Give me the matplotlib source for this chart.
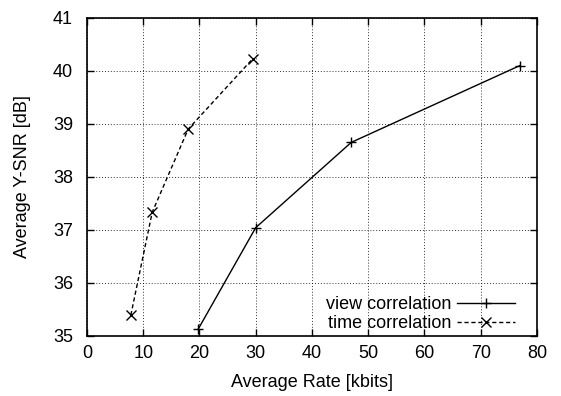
import matplotlib
matplotlib.use("Agg")
import matplotlib.pyplot as plt

plt.rcParams['font.family'] = ['Liberation Sans', 'DejaVu Sans']

view_rate = [19.8, 30.0, 47.0, 77.0]
view_snr = [35.13, 37.04, 38.65, 40.10]
time_rate = [7.8, 11.6, 18.0, 29.5]
time_snr = [35.39, 37.33, 38.90, 40.23]

xticks = [0, 10, 20, 30, 40, 50, 60, 70, 80]
yticks = [35, 36, 37, 38, 39, 40, 41]

FS = 13

fig = plt.figure(figsize=(5.61, 3.96), dpi=100)
ax = fig.add_axes([0.155, 0.152, 0.802, 0.803])

ax.plot(view_rate, view_snr, color='black', lw=1.0, marker='+', ms=7, mew=1.0,
        label='view correlation')
ax.plot(time_rate, time_snr, color='black', lw=1.0, ls=(0, (3, 2)), marker='x', ms=6.5, mew=1.0,
        label='time correlation')

ax.set_xlim(0, 80)
ax.set_ylim(35, 41)
ax.set_xticks(xticks)
ax.set_yticks(yticks)
ax.tick_params(direction='in', top=True, right=True, length=5, width=1, labelsize=FS)
ax.tick_params(axis='x', pad=6.5)
ax.tick_params(axis='y', pad=10)
ax.grid(True, color='black', ls=(0, (1, 2)), lw=0.7, alpha=0.8)
for s in ax.spines.values():
    s.set_linewidth(1.2)

ax.set_xlabel('Average Rate [kbits]', fontsize=FS, labelpad=9)
ax.set_ylabel('Average Y-SNR [dB]', fontsize=FS, labelpad=16)

leg = ax.legend(loc='lower right', frameon=False, markerfirst=False, handlelength=3.2,
                fontsize=FS, numpoints=1, borderaxespad=0, borderpad=0, labelspacing=0.1,
                handletextpad=0.3, bbox_to_anchor=(0.951, 0.012))

fig.savefig('out.png', dpi=100)
